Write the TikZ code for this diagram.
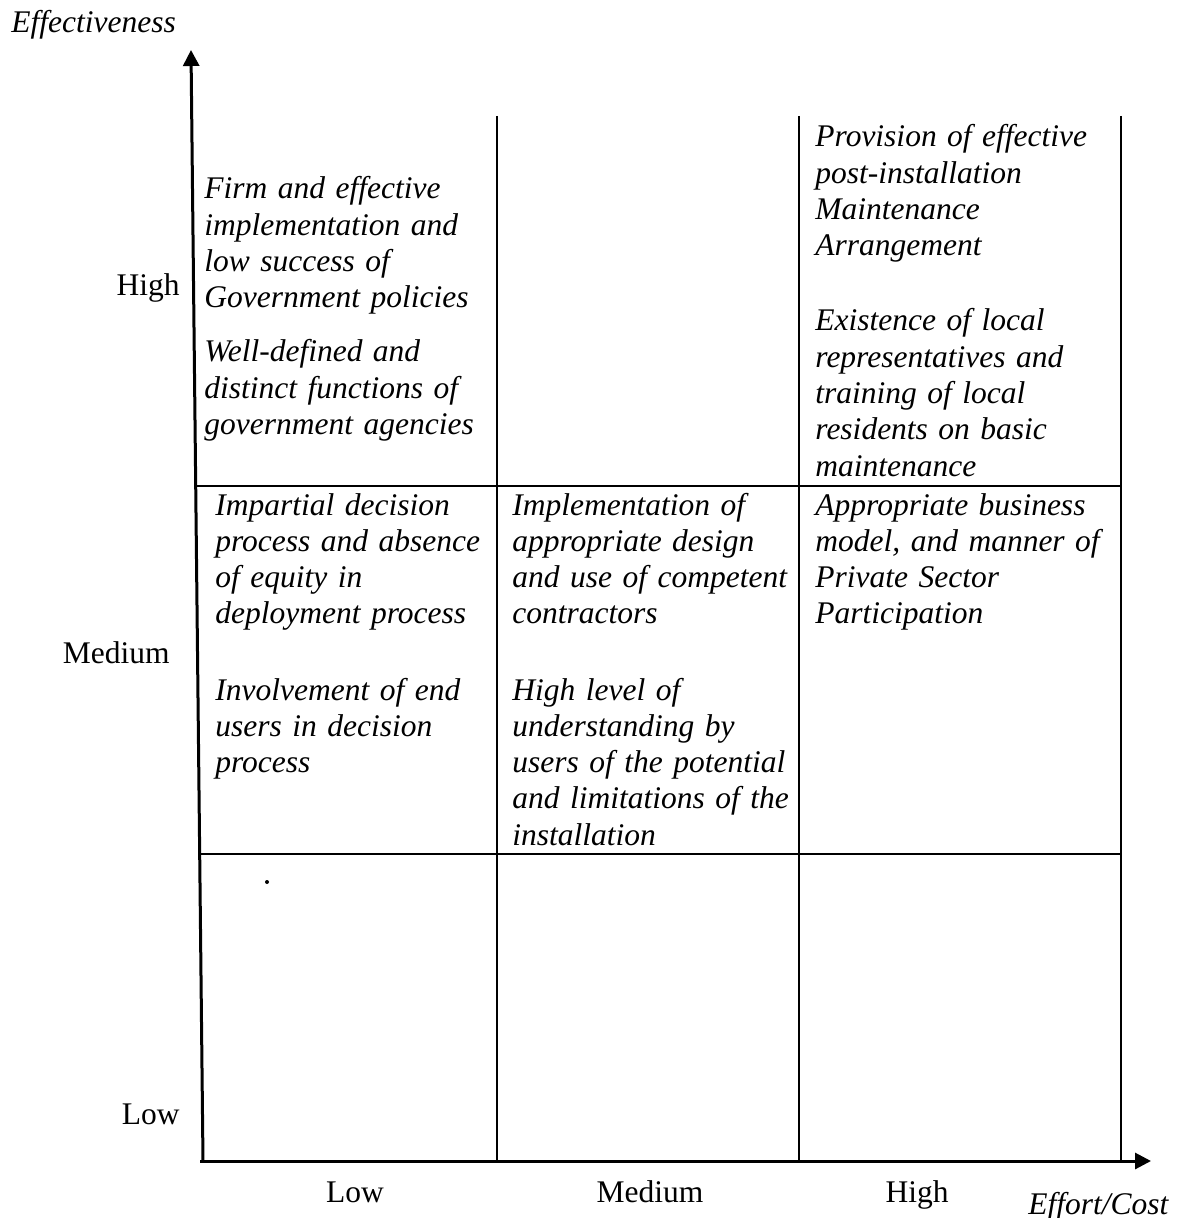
\documentclass[tikz,border=0pt]{standalone}
\usepackage{fontspec}
\setmainfont{Liberation Serif}
\usetikzlibrary{arrows.meta}
\begin{document}
\begin{tikzpicture}[x=0.5bp,y=-0.5bp,
  axisline/.style={line width=1.5bp,-{Triangle[length=8bp,width=8bp]}},
  gridline/.style={line width=1bp},
  cell/.style={anchor=base west,inner sep=0pt,text width=160bp,align=left,
    font=\fontsize{15.75bp}{18.15bp}\selectfont\itshape},
  level/.style={inner sep=0pt,font=\fontsize{15.75bp}{18.15bp}\selectfont},
  axislabel/.style={inner sep=0pt,anchor=base west,
    font=\fontsize{15.75bp}{18.15bp}\selectfont\itshape}]
\useasboundingbox (0,0) rectangle (1186,1218);

% axes
\coordinate (origin) at (203,1161);
\coordinate (ytip) at (191,50);
\coordinate (xstart) at (200,1161);
\coordinate (xtip) at (1151,1161);
\draw[axisline] (origin) -- (ytip);
\draw[axisline] (xstart) -- (xtip);

% grid
\coordinate (v1t) at (497,116);  \coordinate (v1b) at (497,1161);
\coordinate (v2t) at (799,116);  \coordinate (v2b) at (799,1161);
\coordinate (v3t) at (1121,116); \coordinate (v3b) at (1121,1161);
\coordinate (h1l) at (196,486);  \coordinate (h1r) at (1121,486);
\coordinate (h2l) at (200,854);  \coordinate (h2r) at (1121,854);
\draw[gridline] (v1t) -- (v1b);
\draw[gridline] (v2t) -- (v2b);
\draw[gridline] (v3t) -- (v3b);
\draw[gridline] (h1l) -- (h1r);
\draw[gridline] (h2l) -- (h2r);

% axis titles
\node[axislabel] (ytitle) at (11,33) {Effectiveness};
\node[axislabel] (xtitle) at (1028,1214) {Effort/Cost};

% level labels
\node[level,anchor=base east] (yhigh) at (180,296) {High};
\node[level,anchor=base east] (ymed) at (170,663) {Medium};
\node[level,anchor=base east] (ylow) at (180,1124) {Low};
\node[level,anchor=base] (xlow) at (355,1202) {Low};
\node[level,anchor=base] (xmed) at (650,1202) {Medium};
\node[level,anchor=base] (xhigh) at (917,1202) {High};

% cell contents
\node[cell] (tl1) at (204,199) {Firm and effective\\implementation and\\low success of\\Government policies};
\node[cell] (tl2) at (204,362) {Well-defined and\\distinct functions of\\government agencies};
\node[cell] (tr1) at (815,147) {Provision of effective\\post-installation\\Maintenance\\Arrangement};
\node[cell] (tr2) at (815,331) {Existence of local\\representatives and\\training of local\\residents on basic\\maintenance};
\node[cell] (ml1) at (215,515) {Impartial decision\\process and absence\\of equity in\\deployment process};
\node[cell] (ml2) at (215,700) {Involvement of end\\users in decision\\process};
\node[cell] (mm1) at (512,515) {Implementation of\\appropriate design\\and use of competent\\contractors};
\node[cell] (mm2) at (512,700) {High level of\\understanding by\\users of the potential\\and limitations of the\\installation};
\node[cell] (mr1) at (815,515) {Appropriate business\\model, and manner of\\Private Sector\\Participation};

% stray dot in the low/low cell
\fill (267,882) circle (2);
\end{tikzpicture}
\end{document}
